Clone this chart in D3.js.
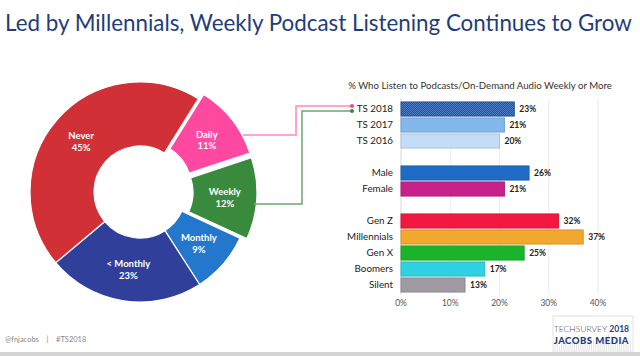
<!DOCTYPE html>
<html><head><meta charset="utf-8">
<script src="https://cdn.jsdelivr.net/npm/d3@7/dist/d3.min.js"></script>
<style>
html,body{margin:0;padding:0;background:#fff;}
svg{display:block;font-family:Lato,"Open Sans",sans-serif;}
</style></head>
<body><svg id="c" width="640" height="356"></svg>
<script>
// ---- data ----
const donutLabels = ["Daily", "Weekly", "Monthly", "< Monthly", "Never"];
const donutValues = [11, 12, 9, 23, 45];
const donutColors = ["#FF48A0", "#3A8A3E", "#2378CE", "#30409A", "#D03036"];
const explodedSlices = ["Daily", "Weekly"];

const barCategories = ["TS 2018", "TS 2017", "TS 2016", "Male", "Female", "Gen Z", "Millennials", "Gen X", "Boomers", "Silent"];
const barValues = [23, 21, 20, 26, 21, 32, 37, 25, 17, 13];
const barColors = ["#2D5CA6", "#82B8EA", "#C4DDF6", "#1F6BC6", "#C6228A", "#F2183F", "#F0A92E", "#1AB52A", "#30D1E2", "#A09AA3"];
const barGroupSizes = [3, 2, 5];
const xTicks = [0, 10, 20, 30, 40];

const titleText = "Led by Millennials, Weekly Podcast Listening Continues to Grow";
const barTitle = "% Who Listen to Podcasts/On-Demand Audio Weekly or More";

const svg = d3.select("#c");
const defs = svg.append("defs");
const pat = defs.append("pattern").attr("id","dots").attr("patternUnits","userSpaceOnUse").attr("width",2).attr("height",2);
pat.append("rect").attr("width",2).attr("height",2).attr("fill","#24508F");
pat.append("rect").attr("width",1).attr("height",1).attr("fill","#4F7FC4");
pat.append("rect").attr("x",1).attr("y",1).attr("width",1).attr("height",1).attr("fill","#4F7FC4");

function fitText(sel, width){
  let fs = parseFloat(sel.attr("font-size"));
  const w = sel.node().getComputedTextLength();
  sel.attr("font-size", (fs*width/w).toFixed(2));
}

// Title
const t = svg.append("text").attr("x",5).attr("y",31).attr("font-size",22).attr("fill","#1F3D7A").text(titleText);
fitText(t, 627);

// ---- Donut ----
const cx = 140, cy = 192, rOuter = 110, rInner = 46, explode = 7;
const pie = d3.pie().sort(null).value(d=>d.v).startAngle(32*Math.PI/180).endAngle(32*Math.PI/180 + 2*Math.PI);
const arcs = pie(donutLabels.map((l,i)=>({l, v:donutValues[i], c:donutColors[i]})));
const arc = d3.arc().innerRadius(rInner).outerRadius(rOuter);
const g = svg.append("g").attr("transform",`translate(${cx},${cy})`);
const slices = g.selectAll("g.s").data(arcs).join("g").attr("class","s")
  .attr("transform", d=>{
    if(!explodedSlices.includes(d.data.l)) return null;
    const a = (d.startAngle+d.endAngle)/2;
    return `translate(${explode*Math.sin(a)},${-explode*Math.cos(a)})`;
  });
slices.append("path").attr("d",arc).attr("fill",d=>d.data.c).attr("stroke","#fff").attr("stroke-width",1.2);
const lab = slices.append("text").attr("text-anchor","middle").attr("fill","#fff").attr("font-weight","bold").attr("font-size",9.5)
  .attr("transform", d=>`translate(${arc.centroid(d)})`);
lab.append("tspan").attr("x",0).attr("dy","-0.2em").text(d=>d.data.l);
lab.append("tspan").attr("x",0).attr("dy","1.25em").text(d=>d.data.v+"%");

// ---- Bars ----
const domain = [];
let k = 0;
barGroupSizes.forEach((n,gi)=>{
  if(gi>0) domain.push("gap"+gi);
  for(let i=0;i<n;i++) domain.push(barCategories[k++]);
});
const x = d3.scaleLinear().domain([0,40]).range([401,598]);
const y = d3.scaleBand().domain(domain).range([101,293]).paddingInner(0.12).paddingOuter(0.06);

svg.append("text").attr("x",480).attr("y",89).attr("text-anchor","middle").attr("font-size",10).attr("fill","#333").text(barTitle)
  .call(s=>fitText(s,264));

svg.append("g").selectAll("line").data(xTicks).join("line")
  .attr("x1",d=>x(d)).attr("x2",d=>x(d)).attr("y1",98).attr("y2",294)
  .attr("stroke",d=>d===0?"#d8d8d8":"#ececec").attr("stroke-width",1);

const bars = barCategories.map((c,i)=>({c, v:barValues[i], col:barColors[i]}));
svg.append("g").selectAll("rect").data(bars).join("rect")
  .attr("x",x(0)).attr("y",d=>y(d.c)).attr("width",d=>x(d.v)-x(0)).attr("height",y.bandwidth())
  .attr("fill",(d,i)=>i===0?"url(#dots)":d.col)
  .attr("stroke",d=>d3.color(d.col).darker(0.35)).attr("stroke-width",1);

svg.append("g").selectAll("text").data(bars).join("text")
  .attr("x",x(0)-8).attr("y",d=>y(d.c)+y.bandwidth()/2).attr("dy","0.35em")
  .attr("text-anchor","end").attr("font-size",9.8).attr("fill","#222").text(d=>d.c);

svg.append("g").selectAll("text").data(bars).join("text")
  .attr("x",d=>x(d.v)+5).attr("y",d=>y(d.c)+y.bandwidth()/2).attr("dy","0.35em")
  .attr("font-size",8.5).attr("font-weight","bold").attr("fill","#222").text(d=>d.v+"%");

svg.append("g").selectAll("text").data(xTicks).join("text")
  .attr("x",d=>x(d)).attr("y",306).attr("text-anchor","middle").attr("font-size",8.5).attr("fill","#555").text(d=>d+"%");

// ---- connectors ----
const ty = y("TS 2018")+y.bandwidth()/2;
svg.append("path").attr("d",`M243,135H296V${ty-3}H352`).attr("fill","none").attr("stroke","#FF86BC").attr("stroke-width",1.5);
svg.append("path").attr("d",`M254,204H302V${ty+2}H352`).attr("fill","none").attr("stroke","#6FA572").attr("stroke-width",1.5);
svg.append("circle").attr("cx",352).attr("cy",ty-3).attr("r",2).attr("fill","#FF3C96");
svg.append("circle").attr("cx",352).attr("cy",ty+2).attr("r",2).attr("fill","#2E8B3A");

// ---- footer ----
svg.append("rect").attr("x",0).attr("y",352).attr("width",640).attr("height",4).attr("fill","#d4d4d4");
svg.append("text").attr("x",5).attr("y",342).attr("font-size",7.5).attr("fill","#888").text("@fnjacobs    |    #TS2018").attr("xml:space","preserve");

const logo = svg.append("g");
logo.append("rect").attr("x",553).attr("y",316).attr("width",80).attr("height",35).attr("fill","#fff").attr("stroke","#e2e2e2");
const eq = [6,10,4,12,8,14,5,11,9,13,7,15,6,10,12,8,14,9,11,7,13,10,6,12,9,15,8,11,14,10,7,12,9,13,6,11];
logo.selectAll("line").data(eq).join("line")
  .attr("x1",(d,i)=>555+i*2.15).attr("x2",(d,i)=>555+i*2.15).attr("y1",d=>350-d).attr("y2",350)
  .attr("stroke","#ddd").attr("stroke-width",0.8);
logo.append("text").attr("x",607).attr("y",332).attr("text-anchor","end").attr("font-size",8.5).attr("font-weight","300").attr("fill","#444").text("TECHSURVEY");
logo.append("text").attr("x",629).attr("y",332).attr("text-anchor","end").attr("font-size",8.5).attr("font-weight","bold").attr("fill","#1F3D7A").text("2018");
logo.append("text").attr("x",629).attr("y",344).attr("text-anchor","end").attr("font-size",9.5).attr("font-weight","900").attr("fill","#1F3D7A").attr("letter-spacing",0.5).text("JACOBS MEDIA");
</script></body></html>
